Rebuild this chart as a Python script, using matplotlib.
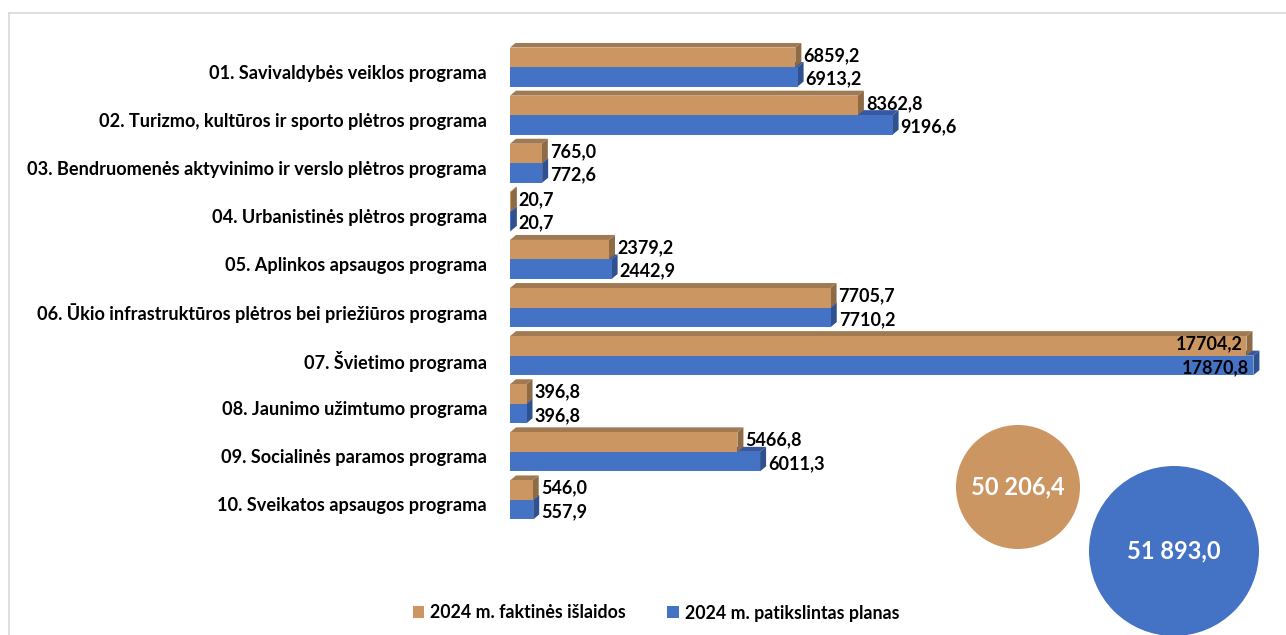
import matplotlib.pyplot as plt
from matplotlib.patches import Polygon, Rectangle, Circle
from matplotlib.lines import Line2D

# ---------- DATA ----------
programs = [
    "01. Savivaldybės veiklos programa",
    "02. Turizmo, kultūros ir sporto plėtros programa",
    "03. Bendruomenės aktyvinimo ir verslo plėtros programa",
    "04. Urbanistinės plėtros programa",
    "05. Aplinkos apsaugos programa",
    "06. Ūkio infrastruktūros plėtros bei priežiūros programa",
    "07. Švietimo programa",
    "08. Jaunimo užimtumo programa",
    "09. Socialinės paramos programa",
    "10. Sveikatos apsaugos programa",
]
actual = [6859.2, 8362.8, 765.0, 20.7, 2379.2, 7705.7, 17704.2, 396.8, 5466.8, 546.0]
plan = [6913.2, 9196.6, 772.6, 20.7, 2442.9, 7710.2, 17870.8, 396.8, 6011.3, 557.9]
series_names = ["2024 m. faktinės išlaidos", "2024 m. patikslintas planas"]

# ---------- STYLE ----------
W, H = 1286, 635
FONT = "Lato"
ORANGE = ("#CC9662", "#A27A52", "#8E6A45")   # front, top, side
BLUE = ("#4472C4", "#3558A0", "#2F528F")

plt.rcParams["font.family"] = [FONT, "DejaVu Sans"]

fig = plt.figure(figsize=(W / 100, H / 100), dpi=100)

# axes box in pixels
ax_left, ax_right, ax_top, ax_bot = 510, 1270, 43, 524
ax = fig.add_axes([ax_left / W, 1 - ax_bot / H, (ax_right - ax_left) / W, (ax_bot - ax_top) / H])
px_per_unit = 0.0416
xmax = (ax_right - ax_left) / px_per_unit
n = len(programs)
ax.set_xlim(0, xmax)
ax.set_ylim(n - 0.5, -0.5)
ax.axis("off")
px_per_row = (ax_bot - ax_top) / n

dx = 6 / px_per_unit
dy = 5 / px_per_row
bar_h = 19.5 / px_per_row


def bar3d(v, y0, y1, cols):
    front, top, side = cols
    ax.add_patch(Polygon([(0, y0), (v, y0), (v + dx, y0 - dy), (dx, y0 - dy)],
                         closed=True, facecolor=top, edgecolor="none"))
    ax.add_patch(Polygon([(v, y0), (v + dx, y0 - dy), (v + dx, y1 - dy), (v, y1)],
                         closed=True, facecolor=side, edgecolor="none"))
    ax.add_patch(Rectangle((0, y0), v, y1 - y0, facecolor=front, edgecolor="none"))


def fmt(v):
    return f"{v:.1f}".replace(".", ",")


for i in range(n):
    # blue first (behind), then orange
    bar3d(plan[i], i, i + bar_h, BLUE)
    bar3d(actual[i], i - bar_h, i, ORANGE)

    for v, yc, off in [(actual[i], i - bar_h / 2, 2), (plan[i], i + bar_h / 2, -2)]:
        if v * px_per_unit > 660:
            ax.annotate(fmt(v), xy=(v, yc), xytext=(-4, off), textcoords="offset pixels",
                        ha="right", va="center", fontsize=13, fontweight="bold", color="black")
        else:
            ax.annotate(fmt(v), xy=(v, yc), xytext=(8, off), textcoords="offset pixels",
                        ha="left", va="center", fontsize=13, fontweight="bold", color="black")

    ax.annotate(programs[i], xy=(0, i), xytext=(-23, -6), textcoords="offset pixels",
                ha="right", va="center", fontsize=13.1, fontweight="bold", color="black",
                annotation_clip=False)

# ---------- TOTALS (circles) ----------
ov = fig.add_axes([0, 0, 1, 1], zorder=-1)
ov.set_xlim(0, W)
ov.set_ylim(H, 0)
ov.axis("off")

tot_actual = sum(actual)
tot_plan = sum(plan)


def fmt_total(v):
    return f"{v:,.1f}".replace(",", " ").replace(".", ",")


ov.add_patch(Circle((1018, 487), 62, facecolor=ORANGE[0], edgecolor="none"))
ov.add_patch(Circle((1174, 551), 85, facecolor=BLUE[0], edgecolor="none"))
ov.text(1018, 487, fmt_total(tot_actual), ha="center", va="center", color="white",
        fontsize=17, fontweight="bold")
ov.text(1174, 551, fmt_total(tot_plan), ha="center", va="center", color="white",
        fontsize=17, fontweight="bold")

# chart border (top and left edges visible)
ov.add_line(Line2D([8.5, W], [12.5, 12.5], color="#D9D9D9", lw=1.2))
ov.add_line(Line2D([8.5, 8.5], [12.5, H], color="#D9D9D9", lw=1.2))

# ---------- LEGEND ----------
handles = [Rectangle((0, 0), 1, 1, facecolor=ORANGE[0]), Rectangle((0, 0), 1, 1, facecolor=BLUE[0])]
fig.legend(handles, series_names, loc="center", bbox_to_anchor=(656 / W, 1 - 613 / H), ncol=2,
           frameon=False, handlelength=0.65, handleheight=0.65, handletextpad=0.35, columnspacing=2.3,
           prop={"family": FONT, "weight": "bold", "size": 12.8})

fig.savefig("out.png", dpi=100)
